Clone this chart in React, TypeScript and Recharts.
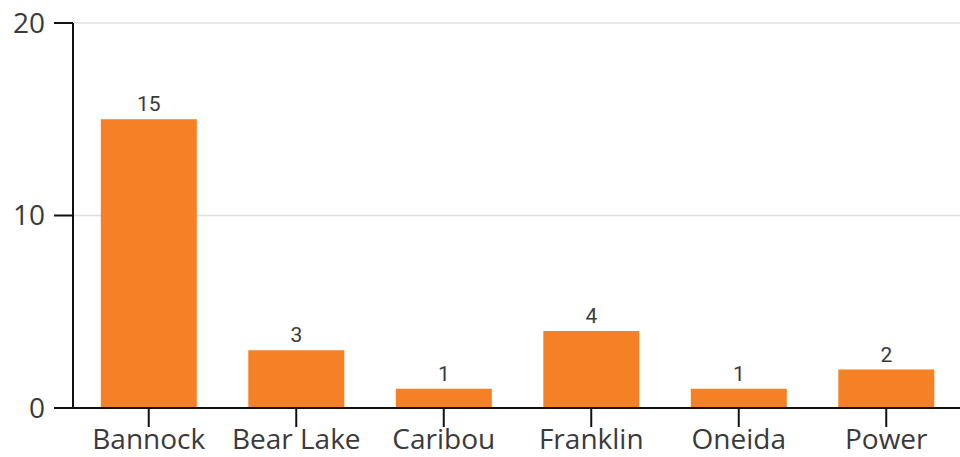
import React from "react";
import { BarChart, Bar, XAxis, YAxis, CartesianGrid, LabelList } from "recharts";

const counties = ["Bannock", "Bear Lake", "Caribou", "Franklin", "Oneida", "Power"];
const counts = [15, 3, 1, 4, 1, 2];
const yTicks = [0, 10, 20];

const data = counties.map((name, i) => ({ name, count: counts[i] }));

const tickStyle = { fontFamily: "'Open Sans', sans-serif", fontSize: 28, fill: "#3a3a3a" };

export default function App() {
  return (
    <div style={{ position: "absolute", left: 0, top: 0, width: 960, height: 457, background: "#fff" }}>
      <BarChart
        width={960}
        height={457}
        data={data}
        margin={{ top: 23, right: 0, left: 0, bottom: 0 }}
        barCategoryGap="17.5%"
      >
        <CartesianGrid vertical={false} stroke="#e0e0e0" strokeWidth={1.5} />
        <XAxis
          dataKey="name"
          height={49}
          padding={{ left: 2, right: 0 }}
          tick={tickStyle}
          fontSize={28}
          tickSize={19}
          tickMargin={2}
          stroke="#111"
          strokeWidth={2}
          tickLine={{ stroke: "#111", strokeWidth: 2 }}
        />
        <YAxis
          width={73}
          domain={[0, 20]}
          ticks={yTicks}
          tick={tickStyle}
          fontSize={28}
          tickSize={19}
          tickMargin={9}
          stroke="#111"
          strokeWidth={2}
          tickLine={{ stroke: "#111", strokeWidth: 2 }}
        />
        <Bar dataKey="count" fill="#f58025" isAnimationActive={false}>
          <LabelList
            dataKey="count"
            position="top"
            offset={8}
            fontSize={21}
            fontFamily="Roboto, sans-serif"
            fill="#3a3a3a"
          />
        </Bar>
      </BarChart>
    </div>
  );
}
